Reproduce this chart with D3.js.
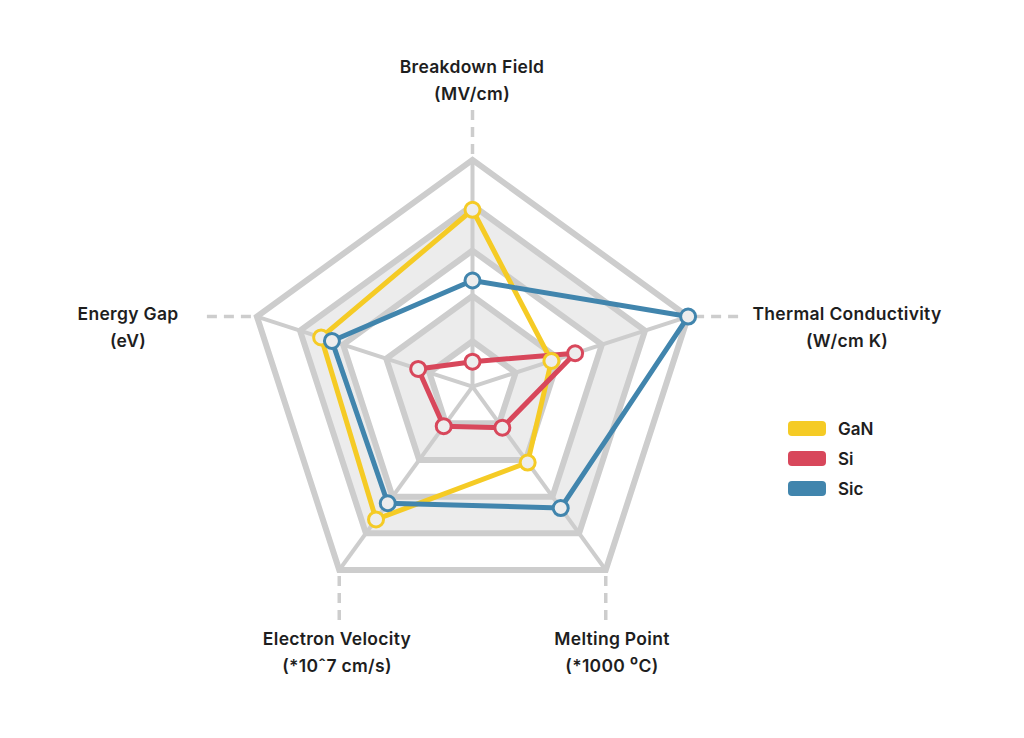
<!DOCTYPE html>
<html>
<head>
<meta charset="utf-8">
<script src="https://cdn.jsdelivr.net/npm/d3@7"></script>
<style>
  body { margin: 0; background: #fff; }
  svg { font-family: "Inter", "Open Sans", sans-serif; }
</style>
</head>
<body>
<svg width="1024" height="738"></svg>
<script>
// axes, clockwise from the top
var axes = ["Breakdown Field", "Thermal Conductivity", "Melting Point", "Electron Velocity", "Energy Gap"];
var units = ["(MV/cm)", "(W/cm K)", "(*1000 \u2070C)", "(*10\u02C67 cm/s)", "(eV)"];
var series = ["GaN", "Si", "Sic"];
// values, in grid levels (0-5)
var ganValues = [3.9, 1.83, 2.07, 3.62, 3.51];
var siValues  = [0.55, 2.38, 1.12, 1.08, 1.26];
var sicValues = [2.34, 5.0, 3.31, 3.18, 3.26];
var levels = [1, 2, 3, 4, 5];
var colors = ["#f5cb25", "#d8475b", "#4185ad"];

var svg = d3.select("svg"),
    cx = 472.5, cy = 386.6,
    outerRadius = 226.7;

var r = d3.scaleLinear().domain([0, 5]).range([0, outerRadius]);
var angle = d3.scalePoint().domain(d3.range(axes.length)).range([0, 2 * Math.PI * 4 / 5]);

function pt(i, v) {
  var a = angle(i);
  return [Math.sin(a) * r(v), -Math.cos(a) * r(v)];
}

var g = svg.append("g").attr("transform", "translate(" + cx + "," + cy + ")");

var ring = d3.line().curve(d3.curveLinearClosed);
function ringPoints(v) { return axes.map(function(d, i) { return pt(i, v); }); }

// shaded bands (alternating)
levels.slice().reverse().forEach(function(l) {
  g.append("path")
    .attr("d", ring(ringPoints(l)))
    .attr("fill", l % 2 === 0 ? "#ececec" : "#ffffff");
});

// spokes
g.selectAll(".spoke").data(axes).enter().append("line")
    .attr("class", "spoke")
    .attr("x2", function(d, i) { return pt(i, 5)[0]; })
    .attr("y2", function(d, i) { return pt(i, 5)[1]; })
    .attr("stroke", "#cdcdcd").attr("stroke-width", 4);

// dashed leader lines: vertical at top/bottom, horizontal at the sides
var leaderDir = [[0, -1], [1, 0], [0, 1], [0, 1], [-1, 0]];
g.selectAll(".ext").data(axes).enter().append("line")
    .attr("class", "ext")
    .attr("x1", function(d, i) { return pt(i, 5)[0] + leaderDir[i][0] * 6; })
    .attr("y1", function(d, i) { return pt(i, 5)[1] + leaderDir[i][1] * 6; })
    .attr("x2", function(d, i) { return pt(i, 5)[0] + leaderDir[i][0] * 56; })
    .attr("y2", function(d, i) { return pt(i, 5)[1] + leaderDir[i][1] * 56; })
    .attr("stroke", "#cdcdcd").attr("stroke-width", 3.5)
    .attr("stroke-dasharray", "10,7");

// rings
g.selectAll(".ring").data(levels).enter().append("path")
    .attr("class", "ring")
    .attr("d", function(l) { return ring(ringPoints(l)); })
    .attr("fill", "none")
    .attr("stroke", "#cdcdcd").attr("stroke-width", 6)
    .attr("stroke-linejoin", "miter");

// series
var data = [ganValues, siValues, sicValues];
data.forEach(function(vals, s) {
  var pts = vals.map(function(v, i) { return pt(i, v); });
  g.append("path")
    .attr("d", ring(pts))
    .attr("fill", "none")
    .attr("stroke", colors[s]).attr("stroke-width", 5)
    .attr("stroke-linejoin", "round");
});
data.forEach(function(vals, s) {
  g.selectAll(".m" + s).data(vals).enter().append("circle")
    .attr("cx", function(v, i) { return pt(i, v)[0]; })
    .attr("cy", function(v, i) { return pt(i, v)[1]; })
    .attr("r", 7.5)
    .attr("fill", "#ededed")
    .attr("stroke", colors[s]).attr("stroke-width", 3);
});

// axis labels
var labelPos = [[472, 73], [847, 320], [612, 645], [337, 645], [128, 320]];
axes.forEach(function(name, i) {
  var t = svg.append("text")
    .attr("x", labelPos[i][0]).attr("y", labelPos[i][1])
    .attr("text-anchor", "middle")
    .attr("font-size", 17.5).attr("font-weight", 600)
    .attr("fill", "#1e1e1e")
    .style("letter-spacing", "0.3px");
  t.append("tspan").attr("x", labelPos[i][0]).text(name);
  t.append("tspan").attr("x", labelPos[i][0]).attr("dy", 27).text(units[i]);
});

// legend
var legend = svg.append("g").attr("transform", "translate(788,421)");
var item = legend.selectAll("g").data(series).enter().append("g")
    .attr("transform", function(d, i) { return "translate(0," + i * 30 + ")"; });
item.append("rect")
    .attr("width", 38).attr("height", 15).attr("rx", 4)
    .attr("fill", function(d, i) { return colors[i]; });
item.append("text")
    .attr("x", 50).attr("y", 14)
    .attr("font-size", 17).attr("font-weight", 600)
    .attr("fill", "#1e1e1e")
    .text(function(d) { return d; });
</script>
</body>
</html>
